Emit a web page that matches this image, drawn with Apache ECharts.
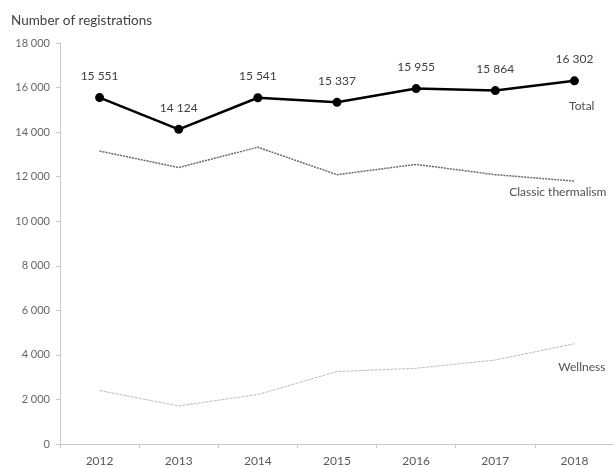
<!DOCTYPE html>
<html>
<head>
<meta charset="utf-8">
<script src="https://cdn.jsdelivr.net/npm/echarts@6/dist/echarts.min.js"></script>
<style>
  html, body { margin: 0; padding: 0; background: #fff; }
  #chart { width: 614px; height: 468px; }
</style>
</head>
<body>
<div id="chart"></div>
<script>
const years = ['2012', '2013', '2014', '2015', '2016', '2017', '2018'];
const total = [15551, 14124, 15541, 15337, 15955, 15864, 16302];
const classic = [13150, 12410, 13320, 12090, 12550, 12090, 11800];
const wellness = [2400, 1710, 2220, 3250, 3400, 3770, 4500];

// 18 000 style thousands separator
const fmt = (v) => String(v).replace(/\B(?=(\d{3})+(?!\d))/g, ' ');

const font = 'Lato, "Open Sans", sans-serif';
const chart = echarts.init(document.getElementById('chart'));

chart.setOption({
  animation: false,
  textStyle: { fontFamily: font },
  title: {
    text: 'Number of registrations',
    left: 6,
    top: 9,
    textStyle: { fontSize: 13.5, fontWeight: 'normal', color: '#404040', fontFamily: font }
  },
  grid: { left: 60, top: 43, width: 560, height: 401 },
  xAxis: {
    type: 'category',
    data: years,
    boundaryGap: true,
    axisLine: { lineStyle: { color: '#c8c8c8' } },
    axisTick: { show: true, length: 4, lineStyle: { color: '#c8c8c8' } },
    axisLabel: { fontSize: 12, color: '#595959', margin: 11 }
  },
  yAxis: {
    type: 'value',
    min: 0,
    max: 18000,
    interval: 2000,
    splitLine: { show: false },
    axisLine: { show: true, lineStyle: { color: '#c8c8c8' } },
    axisTick: { show: true, length: 4, lineStyle: { color: '#c8c8c8' } },
    axisLabel: { fontSize: 11, color: '#666', margin: 10, formatter: fmt }
  },
  series: [
    {
      name: 'Wellness',
      type: 'line',
      data: wellness,
      symbol: 'none',
      lineStyle: { color: '#bdbdbd', width: 1, type: [3, 1] },
      endLabel: {
        show: true, formatter: '{a}', align: 'right', verticalAlign: 'middle',
        offset: [23, 23], fontSize: 12, color: '#505050'
      }
    },
    {
      name: 'Classic thermalism',
      type: 'line',
      data: classic,
      symbol: 'none',
      lineStyle: { color: '#6a6a6a', width: 1.5, type: [2, 1] },
      endLabel: {
        show: true, formatter: '{a}', align: 'right', verticalAlign: 'middle',
        offset: [24, 11], fontSize: 12, color: '#505050'
      }
    },
    {
      name: 'Total',
      type: 'line',
      data: total,
      symbol: 'circle',
      symbolSize: 9,
      itemStyle: { color: '#000' },
      lineStyle: { color: '#000', width: 2.5 },
      label: {
        show: true, position: 'top', distance: 11,
        fontSize: 12, color: '#404040', formatter: (p) => fmt(p.value)
      },
      endLabel: {
        show: true, formatter: '{a}', align: 'right', verticalAlign: 'middle',
        offset: [12, 25], fontSize: 12, color: '#505050'
      }
    }
  ]
});
</script>
</body>
</html>
